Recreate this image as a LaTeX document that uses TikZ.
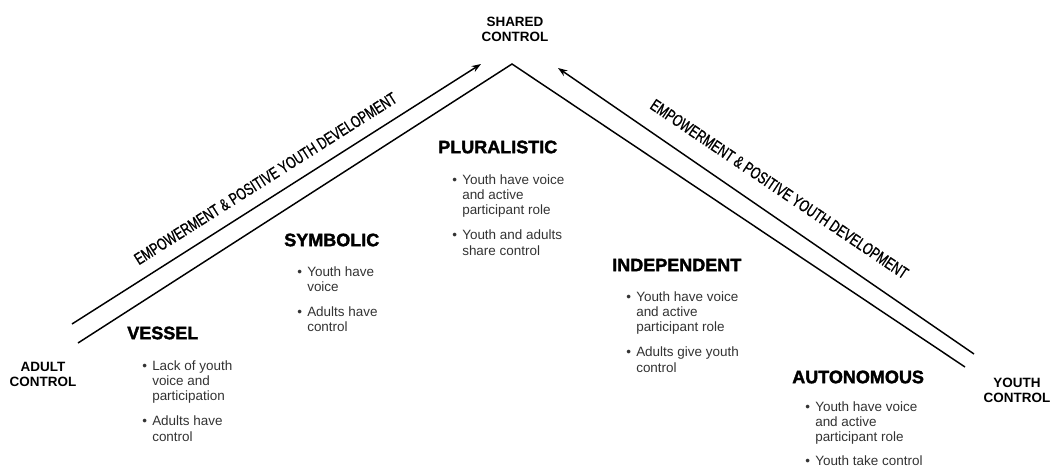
\documentclass[tikz,border=0pt]{standalone}
\usepackage{fontspec}
\setmainfont{Liberation Sans}
\newfontfamily\headfont[FakeBold=2]{Liberation Sans Bold}
\newfontfamily\narrowfont[FakeStretch=0.72,FakeBold=0.8]{Liberation Sans}
\usetikzlibrary{arrows.meta}
\newcommand\bul{\makebox[7.5pt][l]{•}}
\tikzset{
  stagehead/.style={font=\headfont\fontsize{13.5}{16}\selectfont, anchor=west, inner sep=0pt},
  stagelist/.style={font=\fontsize{10.1}{11.6}\selectfont, text=black!80, anchor=base west, inner sep=0pt},
  endlabel/.style={font=\bfseries\fontsize{10.1}{11.3}\selectfont, align=center, inner sep=0pt},
  pathlabel/.style={font=\narrowfont\fontsize{12.5}{14}\selectfont, inner sep=0pt},
  track/.style={line width=1.1pt, black},
  arrowtrack/.style={track, -{Stealth[length=7pt,width=5pt]}},
}
\begin{document}
\begin{tikzpicture}[x=0.75pt,y=-0.75pt]
\useasboundingbox (0,0) rectangle (1051,468);
% track coordinates
\coordinate (lo1) at (72,324);
\coordinate (lo2) at (481,64);
\coordinate (li1) at (78,343);
\coordinate (apex) at (512,64);
\coordinate (ri2) at (965,367);
\coordinate (ro1) at (974,354);
\coordinate (ro2) at (558,68);
\draw[arrowtrack] (lo1) -- (lo2);
\draw[track] (li1) -- (apex) -- (ri2);
\draw[arrowtrack] (ro1) -- (ro2);
% path labels
\node[pathlabel, rotate=32.3] (leftlabel) at (265.5,178.5) {EMPOWERMENT \& POSITIVE YOUTH DEVELOPMENT};
\node[pathlabel, rotate=-34] (rightlabel) at (779.4,189) {EMPOWERMENT \& POSITIVE YOUTH DEVELOPMENT};
% end labels
\node[endlabel] (shared) at (515,29) {SHARED\\CONTROL};
\node[endlabel] (adult) at (43,374.5) {ADULT\\CONTROL};
\node[endlabel] (youth) at (1017,390) {YOUTH\\CONTROL};
% stages
\node[stagehead] (vessel) at (127,333) {VESSEL};
\node[stagelist] (vessel-list) at (142,370) {\begin{tabular}[t]{@{}l@{}l@{}}\bul & Lack of youth\\ & voice and\\ & participation\\[7pt] \bul & Adults have\\ & control\end{tabular}};
\node[stagehead] (symbolic) at (284,240) {SYMBOLIC};
\node[stagelist] (symbolic-list) at (297,276) {\begin{tabular}[t]{@{}l@{}l@{}}\bul & Youth have\\ & voice\\[7pt] \bul & Adults have\\ & control\end{tabular}};
\node[stagehead] (pluralistic) at (438,147) {PLURALISTIC};
\node[stagelist] (pluralistic-list) at (452,184) {\begin{tabular}[t]{@{}l@{}l@{}}\bul & Youth have voice\\ & and active\\ & participant role\\[7pt] \bul & Youth and adults\\ & share control\end{tabular}};
\node[stagehead] (independent) at (612,265) {INDEPENDENT};
\node[stagelist] (independent-list) at (626,301) {\begin{tabular}[t]{@{}l@{}l@{}}\bul & Youth have voice\\ & and active\\ & participant role\\[7pt] \bul & Adults give youth\\ & control\end{tabular}};
\node[stagehead] (autonomous) at (792,377) {AUTONOMOUS};
\node[stagelist] (autonomous-list) at (805,411) {\begin{tabular}[t]{@{}l@{}l@{}}\bul & Youth have voice\\ & and active\\ & participant role\\[6pt] \bul & Youth take control\end{tabular}};
\end{tikzpicture}
\end{document}
